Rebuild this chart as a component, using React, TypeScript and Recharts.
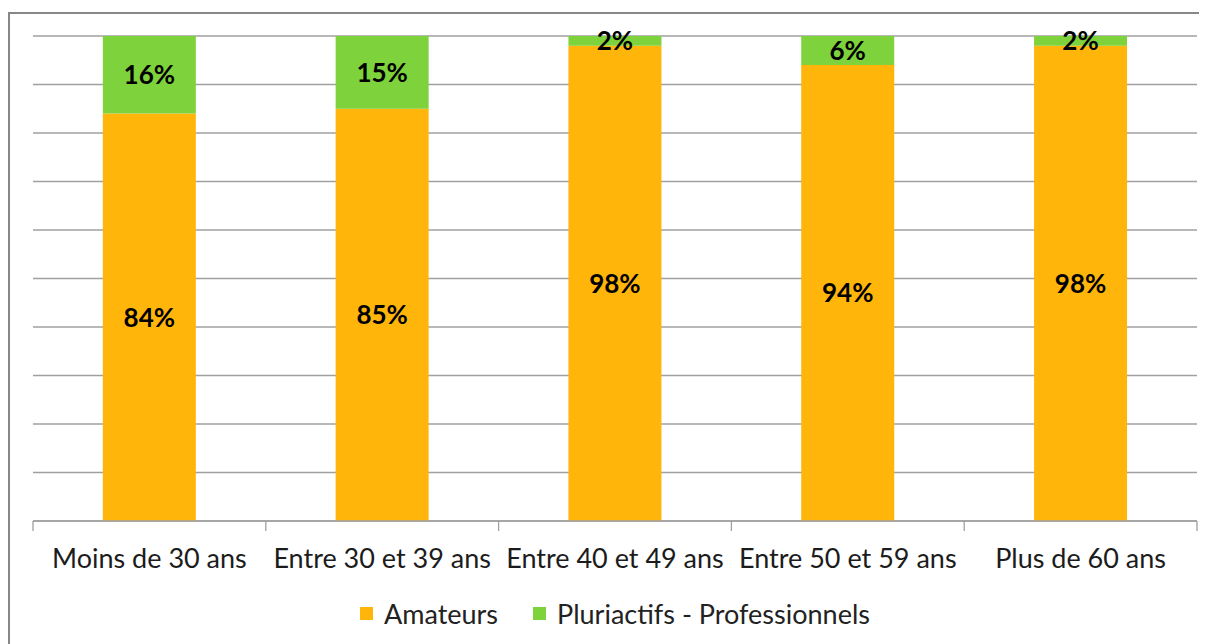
import { Bar, BarChart, CartesianGrid, LabelList, Legend, XAxis, YAxis } from "recharts";

const categories = ["Moins de 30 ans", "Entre 30 et 39 ans", "Entre 40 et 49 ans", "Entre 50 et 59 ans", "Plus de 60 ans"];
const amateurs = [84, 85, 98, 94, 98];
const professionnels = [16, 15, 2, 6, 2];
const yTicks = [0, 10, 20, 30, 40, 50, 60, 70, 80, 90, 100];
const boundaryTicks = [0, 1, 2, 3, 4, 5];

const series = [
  { key: "amateurs", name: "Amateurs", color: "#FFB50A" },
  { key: "pros", name: "Pluriactifs - Professionnels", color: "#7ED23B" },
];

const data = categories.map((name, i) => ({ name, amateurs: amateurs[i], pros: professionnels[i], pos: i + 0.5 }));

const font = "Lato, 'Open Sans', sans-serif";

function LegendContent() {
  return (
    <div style={{ display: "flex", justifyContent: "center", alignItems: "center", fontFamily: font, fontSize: 27, color: "#222", height: 30 }}>
      {series.map((s, i) => (
        <div key={s.key} style={{ display: "flex", alignItems: "center", marginLeft: i ? 35 : 0 }}>
          <span style={{ display: "inline-block", width: 13, height: 13, background: s.color, marginRight: 11 }} />
          <span>{s.name}</span>
        </div>
      ))}
    </div>
  );
}

export default function App() {
  return (
    <div style={{ position: "relative", width: 1199, height: 636, overflow: "hidden", background: "#fff" }}>
      <div
        style={{
          position: "absolute",
          left: 0,
          top: 4,
          width: 1199,
          height: 632,
          boxSizing: "border-box",
          borderTop: "2px solid #878787",
          borderLeft: "2px solid #878787",
        }}
      />
      <BarChart
        width={1199}
        height={636}
        data={data}
        margin={{ top: 28, right: 10, left: 25, bottom: 16 }}
        barCategoryGap="30%"
        style={{ position: "absolute", left: 0, top: 0 }}
      >
        <CartesianGrid horizontal vertical={false} stroke="#a0a0a0" strokeWidth={1.3} xAxisId="cat" />
        <YAxis hide domain={[0, 100]} ticks={yTicks} />
        <XAxis
          xAxisId="a"
          type="number"
          dataKey="pos"
          domain={[0, 5]}
          ticks={boundaryTicks}
          tick={() => <g />}
          tickLine={{ stroke: "#a0a0a0", strokeWidth: 1.3 }}
          tickSize={10}
          height={1}
          stroke="#a0a0a0"
          strokeWidth={1.3}
        />
        <XAxis
          xAxisId="cat"
          dataKey="name"
          axisLine={false}
          tickLine={false}
          height={76}
          tickMargin={21}
          interval={0}
          tick={{ fontFamily: font, fontSize: 27, fill: "#1c1c1c" }}
        />
        <Legend verticalAlign="bottom" content={LegendContent} />
        {series.map((s) => (
          <Bar key={s.key} xAxisId="cat" dataKey={s.key} name={s.name} stackId="a" fill={s.color} isAnimationActive={false}>
            <LabelList
              dataKey={s.key}
              position="center"
              formatter={(v: any) => `${v}%`}
              style={{ fontFamily: font, fontSize: 26, fontWeight: 700, fill: "#000" }}
            />
          </Bar>
        ))}
      </BarChart>
    </div>
  );
}
